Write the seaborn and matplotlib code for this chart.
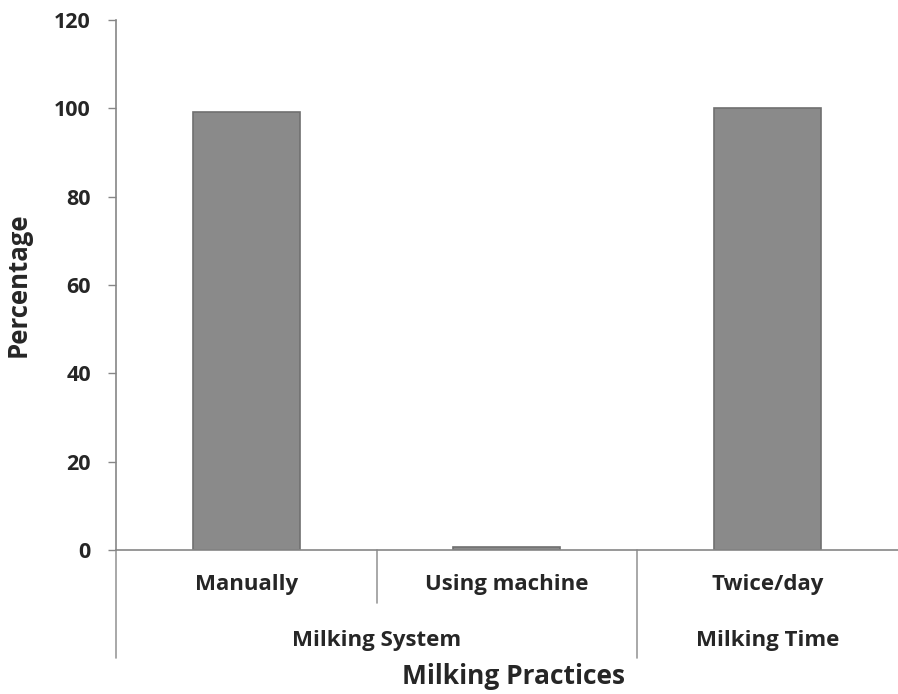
import matplotlib
matplotlib.use('Agg')
import matplotlib.pyplot as plt
import seaborn as sns
import pandas as pd

# Data
categories = ['Manually', 'Using machine', 'Twice/day']
values = [99.2, 0.7, 100.0]
groups = ['Milking System', 'Milking System', 'Milking Time']
yticks = [0, 20, 40, 60, 80, 100, 120]

df = pd.DataFrame({'Category': categories, 'Percentage': values})

sns.set_style('white')
plt.rcParams['font.family'] = ['Open Sans', 'DejaVu Sans']
plt.rcParams['font.weight'] = 'bold'

fig = plt.figure(figsize=(8.98, 6.94), dpi=100)
ax = fig.add_axes([0.129, 0.2075, 0.871, 0.7637])

sns.barplot(data=df, x='Category', y='Percentage', color='#8a8a8a',
            width=0.41, edgecolor='#707070', linewidth=1.2, saturation=1, ax=ax)

ax.set_ylim(0, 120)
ax.set_xlim(-0.5, 2.5)
ax.set_yticks(yticks)
ax.set_yticklabels([str(t) for t in yticks], fontsize=15.5, fontweight='bold')
ax.tick_params(axis='y', length=6, width=1, color='#868686', direction='out', left=True, pad=12)
ax.set_xticks([])
ax.set_xlabel('')
ax.set_ylabel('Percentage', fontsize=18.5, fontweight='bold', labelpad=16)

for s in ['top', 'right']:
    ax.spines[s].set_visible(False)
for s in ['left', 'bottom']:
    ax.spines[s].set_color('#868686')
    ax.spines[s].set_linewidth(1.2)

trans = ax.get_xaxis_transform()
line_kw = dict(color='#9a9a9a', lw=1.2, clip_on=False, transform=trans)

# category labels
for i, c in enumerate(categories):
    ax.text(i, -0.066, c, transform=trans, ha='center', va='center',
            fontsize=16, fontweight='bold')

# divider lines
ax.plot([-0.5, -0.5], [0, -0.204], **line_kw)
ax.plot([0.5, 0.5], [0, -0.1], **line_kw)
ax.plot([1.5, 1.5], [0, -0.204], **line_kw)

# group labels
ax.text(0.5, -0.17, 'Milking System', transform=trans, ha='center', va='center',
        fontsize=16, fontweight='bold')
ax.text(2, -0.17, 'Milking Time', transform=trans, ha='center', va='center',
        fontsize=16, fontweight='bold')

fig.text(0.572, 0.025, 'Milking Practices', ha='center', va='center',
         fontsize=19, fontweight='bold')

fig.savefig('out.png', dpi=100)
